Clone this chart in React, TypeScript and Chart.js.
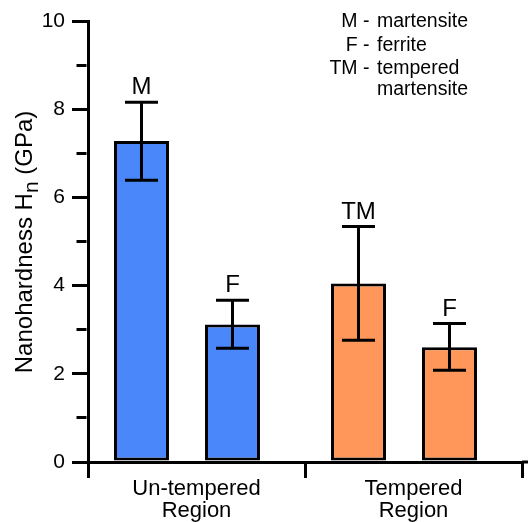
import React, { useEffect, useRef } from 'react';
import { Chart, registerables } from 'chart.js';

Chart.register(...registerables);

const FONT = "'Liberation Sans', Arial, Helvetica, sans-serif";

// ---- data ----
const regions = [['Un-tempered', 'Region'], ['Tempered', 'Region']];
const hardPhaseValues = [7.28, 4.05];
const hardPhaseHigh = [8.16, 5.34];
const hardPhaseLow = [6.39, 2.76];
const hardPhaseMarks = ['M', 'TM'];
const ferriteValues = [3.12, 2.6];
const ferriteHigh = [3.67, 3.14];
const ferriteLow = [2.58, 2.08];
const ferriteMarks = ['F', 'F'];
const regionColors = ['#4A87FA', '#FF975A'];
const yTickLabels = [0, 2, 4, 6, 8, 10];
const legendKeys = ['M', 'F', 'TM', ''];
const legendTexts = ['martensite', 'ferrite', 'tempered', 'martensite'];
const yTitleMain = 'Nanohardness H';
const yTitleSub = 'n';
const yTitleUnit = ' (GPa)';

const errorBarPlugin = {
  id: 'errorBars',
  afterDatasetsDraw(chart: any) {
    const ctx = chart.ctx;
    const y = chart.scales.y;
    chart.data.datasets.forEach((ds: any, di: number) => {
      const meta = chart.getDatasetMeta(di);
      meta.data.forEach((bar: any, i: number) => {
        const x = bar.x;
        const hi = y.getPixelForValue(ds.errHigh[i]);
        const lo = y.getPixelForValue(ds.errLow[i]);
        ctx.save();
        ctx.strokeStyle = '#000';
        ctx.lineWidth = 3;
        ctx.beginPath();
        ctx.moveTo(x, hi);
        ctx.lineTo(x, lo);
        ctx.moveTo(x - 16.5, hi);
        ctx.lineTo(x + 16.5, hi);
        ctx.moveTo(x - 16.5, lo);
        ctx.lineTo(x + 16.5, lo);
        ctx.stroke();
        ctx.fillStyle = '#000';
        ctx.font = `24px ${FONT}`;
        ctx.textAlign = 'center';
        ctx.textBaseline = 'alphabetic';
        ctx.fillText(ds.marks[i], x, hi - 8);
        ctx.restore();
      });
    });
  },
};

const decorPlugin = {
  id: 'decor',
  afterDraw(chart: any) {
    const ctx = chart.ctx;
    const area = chart.chartArea;
    ctx.save();
    // extend x-axis line to the canvas edge
    ctx.strokeStyle = '#000';
    ctx.lineWidth = 3;
    ctx.beginPath();
    ctx.moveTo(area.right, chart.scales.x.top);
    ctx.lineTo(chart.width, chart.scales.x.top);
    ctx.stroke();

    // y title with subscript
    ctx.fillStyle = '#000';
    ctx.translate(32, 242);
    ctx.rotate(-Math.PI / 2);
    ctx.textBaseline = 'alphabetic';
    ctx.textAlign = 'left';
    ctx.font = `24px ${FONT}`;
    const w1 = ctx.measureText(yTitleMain).width;
    const w3 = ctx.measureText(yTitleUnit).width;
    ctx.font = `21px ${FONT}`;
    const w2 = ctx.measureText(yTitleSub).width;
    let px = -(w1 + w2 + w3) / 2;
    ctx.font = `24px ${FONT}`;
    ctx.fillText(yTitleMain, px, 0);
    px += w1;
    ctx.font = `21px ${FONT}`;
    ctx.fillText(yTitleSub, px, 6);
    px += w2;
    ctx.font = `24px ${FONT}`;
    ctx.fillText(yTitleUnit, px, 0);
    ctx.restore();

    // legend text
    ctx.save();
    ctx.fillStyle = '#000';
    ctx.font = `19.5px ${FONT}`;
    ctx.textBaseline = 'alphabetic';
    const baselines = [27, 50.5, 73.5, 94.5];
    legendKeys.forEach((k, i) => {
      if (k) {
        ctx.textAlign = 'right';
        ctx.fillText(k + ' -', 369.5, baselines[i]);
      }
      ctx.textAlign = 'left';
      ctx.fillText(legendTexts[i], 377, baselines[i]);
    });
    ctx.restore();
  },
};

export default function App() {
  const ref = useRef<HTMLCanvasElement | null>(null);
  useEffect(() => {
    if (!ref.current) return;
    const chart = new Chart(ref.current, {
      type: 'bar',
      data: {
        labels: regions as any,
        datasets: [
          {
            label: 'Hard phase',
            data: hardPhaseValues,
            errHigh: hardPhaseHigh,
            errLow: hardPhaseLow,
            marks: hardPhaseMarks,
            backgroundColor: regionColors,
            borderColor: '#000',
            borderWidth: 3,
            borderSkipped: false,
            xAxisID: 'xb',
            barPercentage: 0.604,
            categoryPercentage: 0.8387,
          } as any,
          {
            label: 'Ferrite',
            data: ferriteValues,
            errHigh: ferriteHigh,
            errLow: ferriteLow,
            marks: ferriteMarks,
            backgroundColor: regionColors,
            borderColor: '#000',
            borderWidth: 3,
            borderSkipped: false,
            xAxisID: 'xb',
            barPercentage: 0.604,
            categoryPercentage: 0.8387,
          } as any,
        ],
      },
      options: {
        responsive: false,
        animation: false,
        devicePixelRatio: 1,
        layout: { padding: { top: 21, right: 6, left: 0, bottom: 0 } },
        plugins: { legend: { display: false }, tooltip: { enabled: false } },
        scales: {
          xb: {
            type: 'category',
            display: false,
            offset: true,
            afterBuildTicks: (scale: any) => {
              scale._startValue += 0.0438;
            },
          },
          x: {
            type: 'category',
            position: 'bottom',
            offset: true,
            afterFit: (scale: any) => {
              scale.height = 60;
            },
            grid: {
              offset: true,
              drawOnChartArea: false,
              drawTicks: true,
              tickLength: 16,
              lineWidth: 3,
              color: '#000',
            },
            border: { display: true, width: 3, color: '#000' },
            ticks: {
              color: '#000',
              font: { family: FONT, size: 22, lineHeight: 1 },
              padding: 0,
              maxRotation: 0,
              autoSkip: false,
            },
          },
          y: {
            type: 'linear',
            min: 0,
            max: 10,
            afterFit: (scale: any) => {
              scale.width = 88;
            },
            grid: {
              drawOnChartArea: false,
              drawTicks: true,
              tickLength: 16,
              lineWidth: 3,
              color: '#000',
              tickBorderDash: (c: any) =>
                c.tick && !yTickLabels.includes(c.tick.value) ? [0, 4.5, 10, 100] : [],
            },
            border: { display: true, width: 3, color: '#000' },
            ticks: {
              stepSize: 1,
              color: '#000',
              padding: 7,
              font: { family: FONT, size: 21 },
              callback: (v: any) => (yTickLabels.includes(Number(v)) ? String(v) : ''),
            },
          },
        },
      } as any,
      plugins: [errorBarPlugin, decorPlugin],
    });
    return () => chart.destroy();
  }, []);
  return (
    <div style={{ position: 'absolute', left: 0, top: 0, width: 528, height: 522, background: '#fff' }}>
      <canvas ref={ref} width={528} height={522} style={{ display: 'block' }} />
    </div>
  );
}
